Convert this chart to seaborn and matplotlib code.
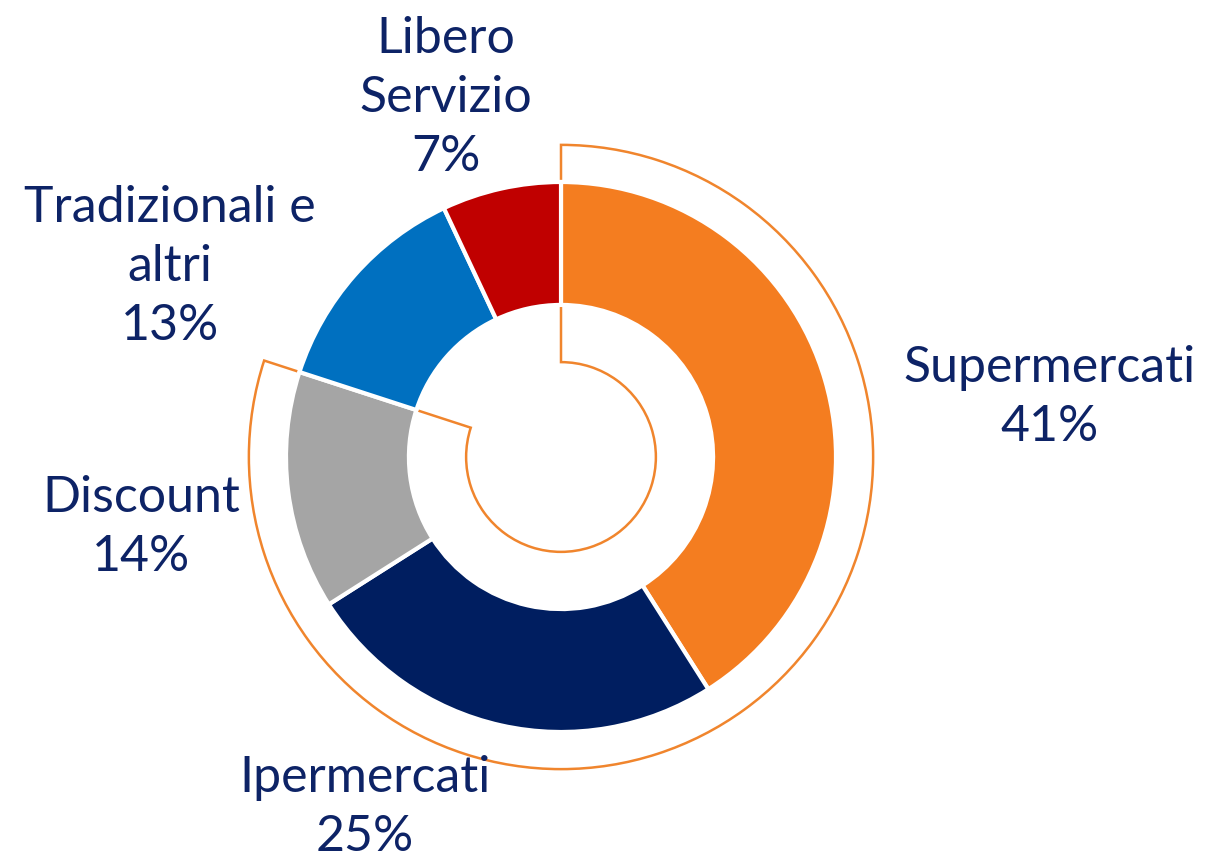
import matplotlib
matplotlib.use("Agg")
import matplotlib.pyplot as plt
from matplotlib.patches import Wedge
import seaborn as sns

# data
categories = ["Supermercati", "Ipermercati", "Discount", "Tradizionali e\naltri", "Libero\nServizio"]
shares = [41, 25, 14, 13, 7]
colors = ["#F47D20", "#001E60", "#A5A5A5", "#0070C0", "#C00000"]
highlighted = 3  # first three slices are grouped by the orange outline

sns.set_theme(style="white")
plt.rcParams["font.family"] = ["Lato", "DejaVu Sans"]

text_color = "#0D2366"
outline_color = "#F0852D"

fig = plt.figure(figsize=(12.07, 8.64), dpi=100)
ax = fig.add_axes([0, 0, 1, 1])

# outline around the grouped slices
end_angle = 90 - 360 * sum(shares[:highlighted]) / sum(shares)
outline = Wedge((0, 0), 1.135, end_angle, 90, width=1.135 - 0.345,
                fill=False, edgecolor=outline_color, linewidth=1.8, zorder=1)
ax.add_patch(outline)

wedges, _ = ax.pie(shares, colors=colors, startangle=90, counterclock=False,
                   radius=1.0, frame=True,
                   wedgeprops=dict(width=0.447, edgecolor="white", linewidth=3))
for w in wedges:
    w.set_zorder(2)

# label positions (data units, pie radius = 1)
label_pos = [(1.778, 0.215), (-0.713, -1.275), (-1.527, -0.258), (-1.422, 0.69), (-0.418, 1.305)]
for cat, val, (x, y) in zip(categories, shares, label_pos):
    ax.text(x, y, f"{cat}\n{val}%", ha="center", va="center", fontsize=36,
            color=text_color, linespacing=1.35)

# pie radius 1 -> 275 px, centre at (561, 457) px
ax.set_xlim(-561 / 275, (1207 - 561) / 275)
ax.set_ylim(-(864 - 457) / 275, 457 / 275)
ax.set_aspect("equal")
ax.axis("off")

fig.savefig("out.png", dpi=100, facecolor="white")
